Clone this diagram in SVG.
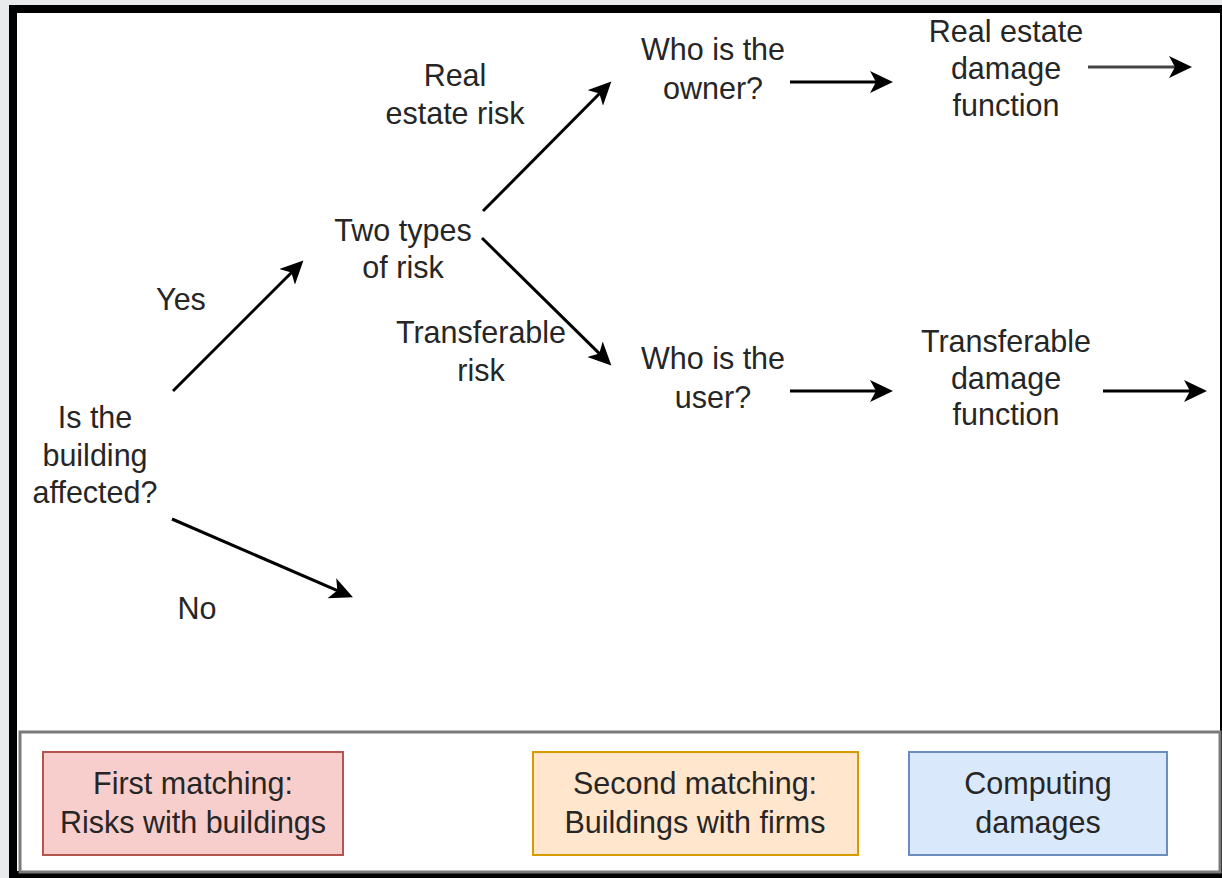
<svg xmlns="http://www.w3.org/2000/svg" width="1222" height="878" viewBox="0 0 1222 878">
  <defs>
    <marker id="arr" markerUnits="userSpaceOnUse" markerWidth="26" markerHeight="24" refX="8" refY="11" orient="auto">
      <path d="M0,0 L23,11 L0,22 L6,11 Z" fill="#000"/>
    </marker>
    <style>
      text { font-family: "Liberation Sans", Arial, sans-serif; font-size: 30.5px; fill: #262626; text-anchor: middle; }
      .edge { stroke: #000; stroke-width: 3; fill: none; marker-end: url(#arr); }
    </style>
  </defs>
  <rect x="0" y="0" width="1222" height="878" fill="#e9eaec"/>
  <rect id="frame" x="13" y="9" width="1211" height="866" fill="#fff" stroke="#000" stroke-width="8"/>
  <rect id="legend-panel" x="20" y="732" width="1200" height="140" fill="#fff" stroke="#7a7a7a" stroke-width="3"/>

  <g id="connectors">
    <line class="edge" x1="173" y1="391" x2="292.8" y2="271.2"/>
    <line class="edge" x1="172" y1="519" x2="339.2" y2="591.4"/>
    <line class="edge" x1="483" y1="211" x2="600.8" y2="92.2"/>
    <line class="edge" x1="482" y1="238" x2="600.7" y2="354.9"/>
    <line class="edge" x1="790" y1="82" x2="878" y2="82"/>
    <line class="edge" x1="1088" y1="67" x2="1177" y2="67" style="stroke:#444"/>
    <line class="edge" x1="790" y1="391" x2="878" y2="391"/>
    <line class="edge" x1="1103" y1="391" x2="1192" y2="391"/>
  </g>

  <g id="node-affected"><text x="95" y="428">Is the</text><text x="95" y="466">building</text><text x="95" y="503">affected?</text></g>
  <g id="label-yes"><text x="181" y="310">Yes</text></g>
  <g id="label-no"><text x="197" y="619">No</text></g>
  <g id="node-two-types"><text x="403" y="241">Two types</text><text x="403" y="278">of risk</text></g>
  <g id="label-real-estate-risk"><text x="455" y="86">Real</text><text x="455" y="124">estate risk</text></g>
  <g id="label-transferable-risk"><text x="481" y="343">Transferable</text><text x="481" y="381">risk</text></g>
  <g id="node-owner"><text x="713" y="60">Who is the</text><text x="713" y="99">owner?</text></g>
  <g id="node-user"><text x="713" y="369">Who is the</text><text x="713" y="408">user?</text></g>
  <g id="node-re-damage"><text x="1006" y="42">Real estate</text><text x="1006" y="79">damage</text><text x="1006" y="116">function</text></g>
  <g id="node-tr-damage"><text x="1006" y="352">Transferable</text><text x="1006" y="389">damage</text><text x="1006" y="425">function</text></g>

  <g id="legend-first">
    <rect x="43" y="752" width="300" height="103" fill="#f8cecc" stroke="#b85450" stroke-width="2"/>
    <text x="193" y="794">First matching:</text><text x="193" y="833">Risks with buildings</text>
  </g>
  <g id="legend-second">
    <rect x="533" y="752" width="325" height="103" fill="#ffe6cc" stroke="#d79b00" stroke-width="2"/>
    <text x="695" y="794">Second matching:</text><text x="695" y="833">Buildings with firms</text>
  </g>
  <g id="legend-third">
    <rect x="909" y="752" width="258" height="103" fill="#dae8fc" stroke="#6c8ebf" stroke-width="2"/>
    <text x="1038" y="794">Computing</text><text x="1038" y="833">damages</text>
  </g>
</svg>
